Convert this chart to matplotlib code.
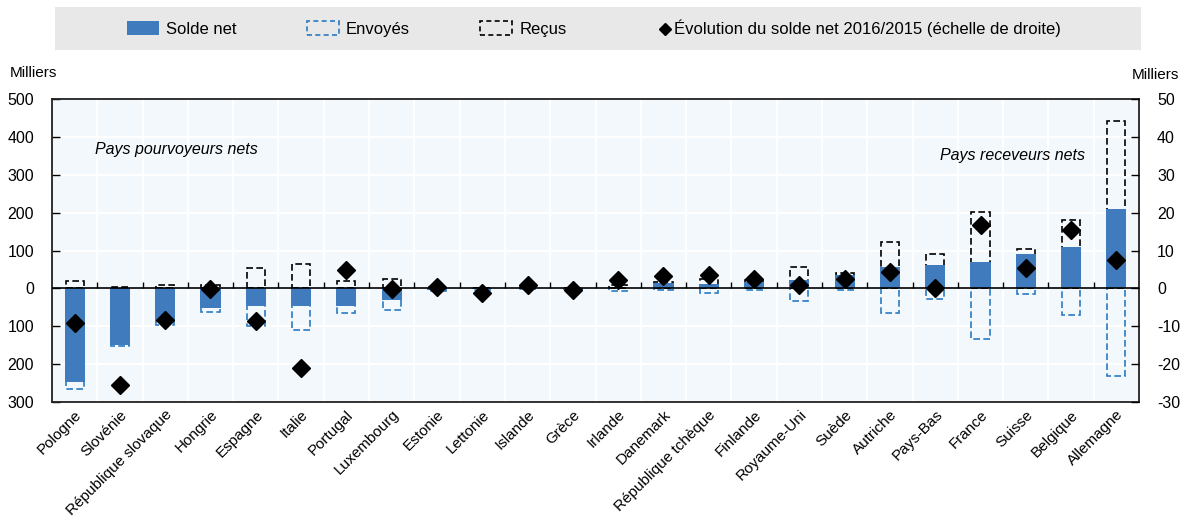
import numpy as np
import matplotlib
matplotlib.use('Agg')
import matplotlib.pyplot as plt
from matplotlib.patches import Patch
from matplotlib.lines import Line2D
from matplotlib.ticker import FuncFormatter, MultipleLocator

# ========== données ==========
pays = ['Pologne', 'Slovénie', 'République slovaque', 'Hongrie', 'Espagne', 'Italie',
        'Portugal', 'Luxembourg', 'Estonie', 'Lettonie', 'Islande', 'Grèce', 'Irlande',
        'Danemark', 'République tchèque', 'Finlande', 'Royaume-Uni', 'Suède', 'Autriche',
        'Pays-Bas', 'France', 'Suisse', 'Belgique', 'Allemagne']
# milliers
solde_net = [-246, -150, -89, -52, -46, -46, -46, -30, -4, -2, 1, -3, 2,
             13, 11, 17, 22, 36, 57, 61, 70, 90, 110, 210]
envoyes = [-265, -153, -97, -62, -100, -110, -65, -56, -7, -4, -2, -5, -6,
           -5, -13, -5, -34, -4, -65, -29, -133, -14, -71, -231]
recus = [19, 3, 8, 10, 54, 64, 19, 26, 3, 2, 3, 2, 8,
         18, 24, 22, 56, 40, 122, 90, 203, 104, 181, 441]
# évolution du solde net 2016/2015 (échelle de droite, milliers)
evolution = [-9.1, -25.5, -8.4, -0.1, -8.7, -21.0, 4.8, -0.2, 0.3, -1.1, 0.9, -0.3, 2.2,
             3.4, 3.5, 2.5, 0.8, 2.4, 4.4, 0.1, 16.8, 5.5, 15.5, 7.4]

# ========== style ==========
plt.rcParams['font.family'] = ['Liberation Sans', 'DejaVu Sans']
plt.rcParams['axes.unicode_minus'] = False

BLUE = '#3f7bbd'
BLUE_EDGE = '#2a7ac4'
BG = '#f3f8fc'

fig = plt.figure(figsize=(11.89, 5.22), dpi=100)
ax = fig.add_axes([0.0437, 0.2299, 0.9143, 0.5804])
ax.set_facecolor(BG)

x = np.arange(len(pays))
width = 0.4

# boîtes en tirets (envoyés / reçus) sous la barre pleine du solde net
ax.bar(x, envoyes, width, fill=False, edgecolor=BLUE_EDGE, linewidth=1.2,
       linestyle=(0, (4, 2)), zorder=2)
ax.bar(x, recus, width, fill=False, edgecolor='black', linewidth=1.2,
       linestyle=(0, (4, 2)), zorder=2)
ax.bar(x, solde_net, width + 0.045, color=BLUE, edgecolor='none', zorder=3)

ax.set_xlim(-0.5, len(pays) - 0.5)
ax.set_ylim(-300, 500)
ax.axhline(0, color='black', linewidth=1.2, zorder=4)

# petites graduations sur la ligne du zéro
ax.vlines(np.arange(len(pays) + 1)[1:-1] - 0.5, 0, 18, color='black', linewidth=1.0, zorder=4)

# grille blanche
ax.yaxis.set_major_locator(MultipleLocator(100))
ax.set_xticks(x)
ax.set_xticks(np.arange(len(pays) - 1) + 0.5, minor=True)
ax.grid(True, axis='y', which='major', color='white', linewidth=1.5, zorder=0)
ax.grid(True, axis='x', which='minor', color='white', linewidth=1.5, zorder=0)
ax.set_axisbelow(True)

ax.set_xticklabels(pays, rotation=45, ha='right', va='top', rotation_mode='anchor', fontsize=11)
ax.tick_params(axis='x', which='both', length=0, pad=4)
ax.tick_params(axis='y', direction='in', length=6, width=1, labelsize=11.5, pad=13)
ax.yaxis.set_major_formatter(FuncFormatter(lambda v, p: f'{abs(v):.0f}'))

for sp in ax.spines.values():
    sp.set_linewidth(1.3)
    sp.set_color('#222222')

ax2 = ax.twinx()
ax2.set_ylim(-30, 50)
ax2.yaxis.set_major_locator(MultipleLocator(10))
ax2.tick_params(axis='y', direction='in', length=6, width=1, labelsize=11.5, pad=13)
ax2.plot(x, evolution, linestyle='none', marker='D', markersize=9,
         color='black', zorder=5)
for sp in ax2.spines.values():
    sp.set_visible(False)

ax.text(0.040, 0.835, 'Pays pourvoyeurs nets', transform=ax.transAxes, style='italic',
        fontsize=11.5, va='center', ha='left')
ax.text(0.950, 0.815, 'Pays receveurs nets', transform=ax.transAxes, style='italic',
        fontsize=11.5, va='center', ha='right')

fig.text(0.008, 0.86, 'Milliers', fontsize=11, ha='left', va='center')
fig.text(0.992, 0.856, 'Milliers', fontsize=11, ha='right', va='center')

# ========== légende ==========
fig.patches.append(plt.Rectangle((0.046, 0.904), 0.914, 0.082, transform=fig.transFigure,
                                 facecolor='#e8e8e8', edgecolor='none', zorder=0))
handles = [Patch(facecolor=BLUE, edgecolor='none', label='Solde net'),
           Patch(facecolor='none', edgecolor=BLUE_EDGE, linestyle=(0, (3, 2)), linewidth=1.2, label='Envoyés'),
           Patch(facecolor='none', edgecolor='black', linestyle=(0, (3, 2)), linewidth=1.2, label='Reçus')]
fig.legend(handles=handles, loc='center left', bbox_to_anchor=(0.107, 0.945), ncol=3,
           frameon=False, fontsize=12, handlelength=1.9, handleheight=0.9,
           handletextpad=0.45, columnspacing=4.2, borderaxespad=0, borderpad=0)
fig.legend(handles=[Line2D([], [], linestyle='none', marker='D', markersize=6, color='black',
                           label='Évolution du solde net 2016/2015 (échelle de droite)')],
           loc='center left', bbox_to_anchor=(0.556, 0.945), frameon=False, fontsize=12,
           handlelength=0.5, handletextpad=0.3, borderaxespad=0, borderpad=0)

fig.savefig('out.png', dpi=100)
